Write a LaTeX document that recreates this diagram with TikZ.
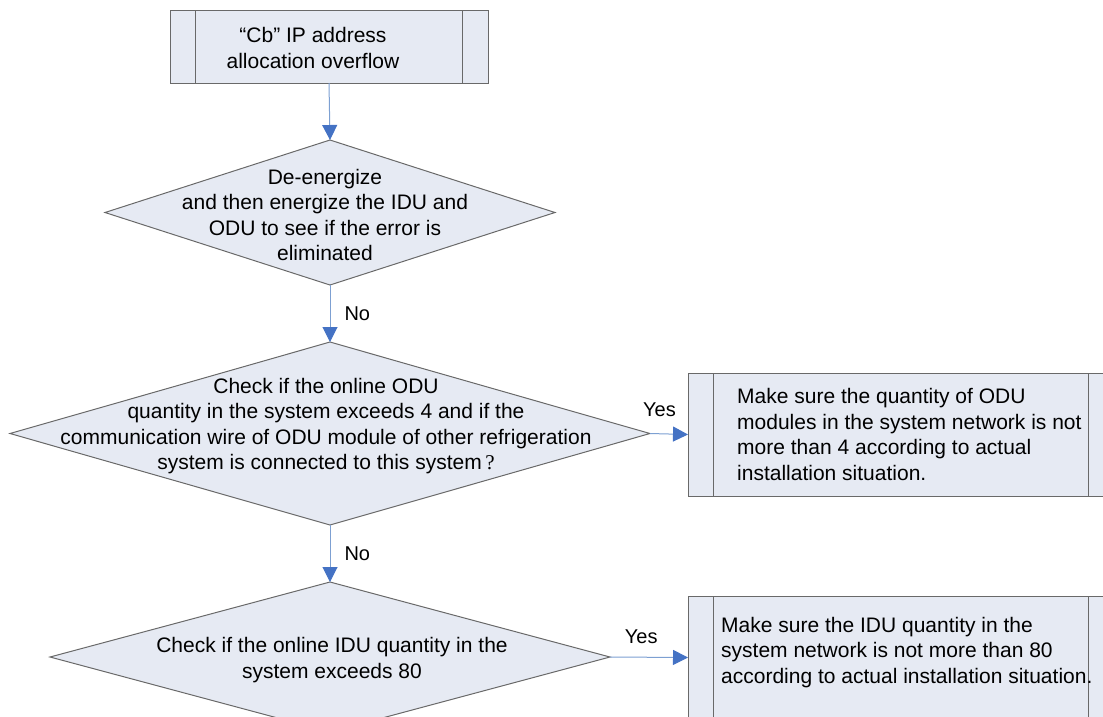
\documentclass[tikz,border=0pt]{standalone}
\usepackage{fontspec}
\setmainfont{Liberation Sans}
\newfontfamily\qmark{Liberation Serif}
\usepackage{tikz}
\usetikzlibrary{shapes.geometric, arrows.meta, positioning, calc}
\definecolor{boxFill}{RGB}{230,234,243}
\definecolor{boxLine}{RGB}{105,105,105}
\definecolor{arrowLine}{RGB}{125,160,210}
\definecolor{arrowHead}{RGB}{68,114,196}

\begin{document}
\begin{tikzpicture}[x=1pt, y=-1pt,
  every node/.style={font=\fontsize{21}{25.5}\selectfont},
  proc/.style={draw=boxLine, fill=boxFill, line width=1pt, inner sep=0pt, outer sep=0pt,
    path picture={
      \draw[boxLine, line width=1pt] ([xshift=25.5pt]path picture bounding box.north west) -- ([xshift=25.5pt]path picture bounding box.south west);
      \draw[boxLine, line width=1pt] ([xshift=-25.5pt]path picture bounding box.north east) -- ([xshift=-25.5pt]path picture bounding box.south east);}},
  dec/.style={diamond, draw=boxLine, fill=boxFill, line width=1pt, inner sep=0pt, outer sep=0pt},
  txt/.style={align=center, inner sep=0pt},
  txtL/.style={align=left, inner sep=0pt, anchor=west},
  arr/.style={draw=arrowLine, line width=1pt, -{Triangle[width=15pt, length=15pt, color=arrowHead]}},
  lbl/.style={font=\fontsize{20}{24}\selectfont, inner sep=0pt},
]
  \useasboundingbox (0,0) rectangle (1103,716);
  \clip (0,0) rectangle (1103,716);

  \node[proc, minimum width=318pt, minimum height=73pt] at (329,46.5) (start) {};
  \node[txt] at (313,48) (startT) {“Cb” IP address\\allocation overflow};

  \node[dec, minimum width=450pt, minimum height=145pt] at (330,212.5) (d1) {};
  \node[txt] at (325,215) (d1T) {De-energize\\and then energize the IDU and\\ODU to see if the error is\\eliminated};

  \node[dec, minimum width=640pt, minimum height=183pt] at (330,433.5) (d2) {};
  \node[txt] at (326,426) (d2T) {Check if the online ODU\\quantity in the system exceeds 4 and if the\\communication wire of ODU module of other refrigeration\\system is connected to this system\,{\qmark ?}};

  \node[dec, minimum width=560pt, minimum height=150pt] at (330,657) (d3) {};
  \node[txt] at (332,660) (d3T) {Check if the online IDU quantity in the\\system exceeds 80};

  \node[proc, minimum width=426pt, minimum height=123pt] at (901,434.5) (b1) {};
  \node[txtL, right=49pt of b1.west] (b1T) {Make sure the quantity of ODU\\modules in the system network is not\\more than 4 according to actual\\installation situation.};

  \node[proc, minimum width=426pt, minimum height=123pt] at (901,657.5) (b2) {};
  \node[txtL, right=33pt of b2.west, yshift=5pt] (b2T) {Make sure the IDU quantity in the\\system network is not more than 80\\according to actual installation situation.};

  \draw[arr] (start.south) -- (d1.north);
  \draw[arr] (d1.south) -- node[lbl, right=14pt] {No} (d2.north);
  \draw[arr] (d2.south) -- node[lbl, right=14pt] {No} (d3.north);
  \draw[arr] (d2.east) -- node[lbl, pos=0.25, above=17pt] {Yes} (b1.west);
  \draw[arr] (d3.east) -- node[lbl, pos=0.4, above=13pt] {Yes} (b2.west);
\end{tikzpicture}
\end{document}
